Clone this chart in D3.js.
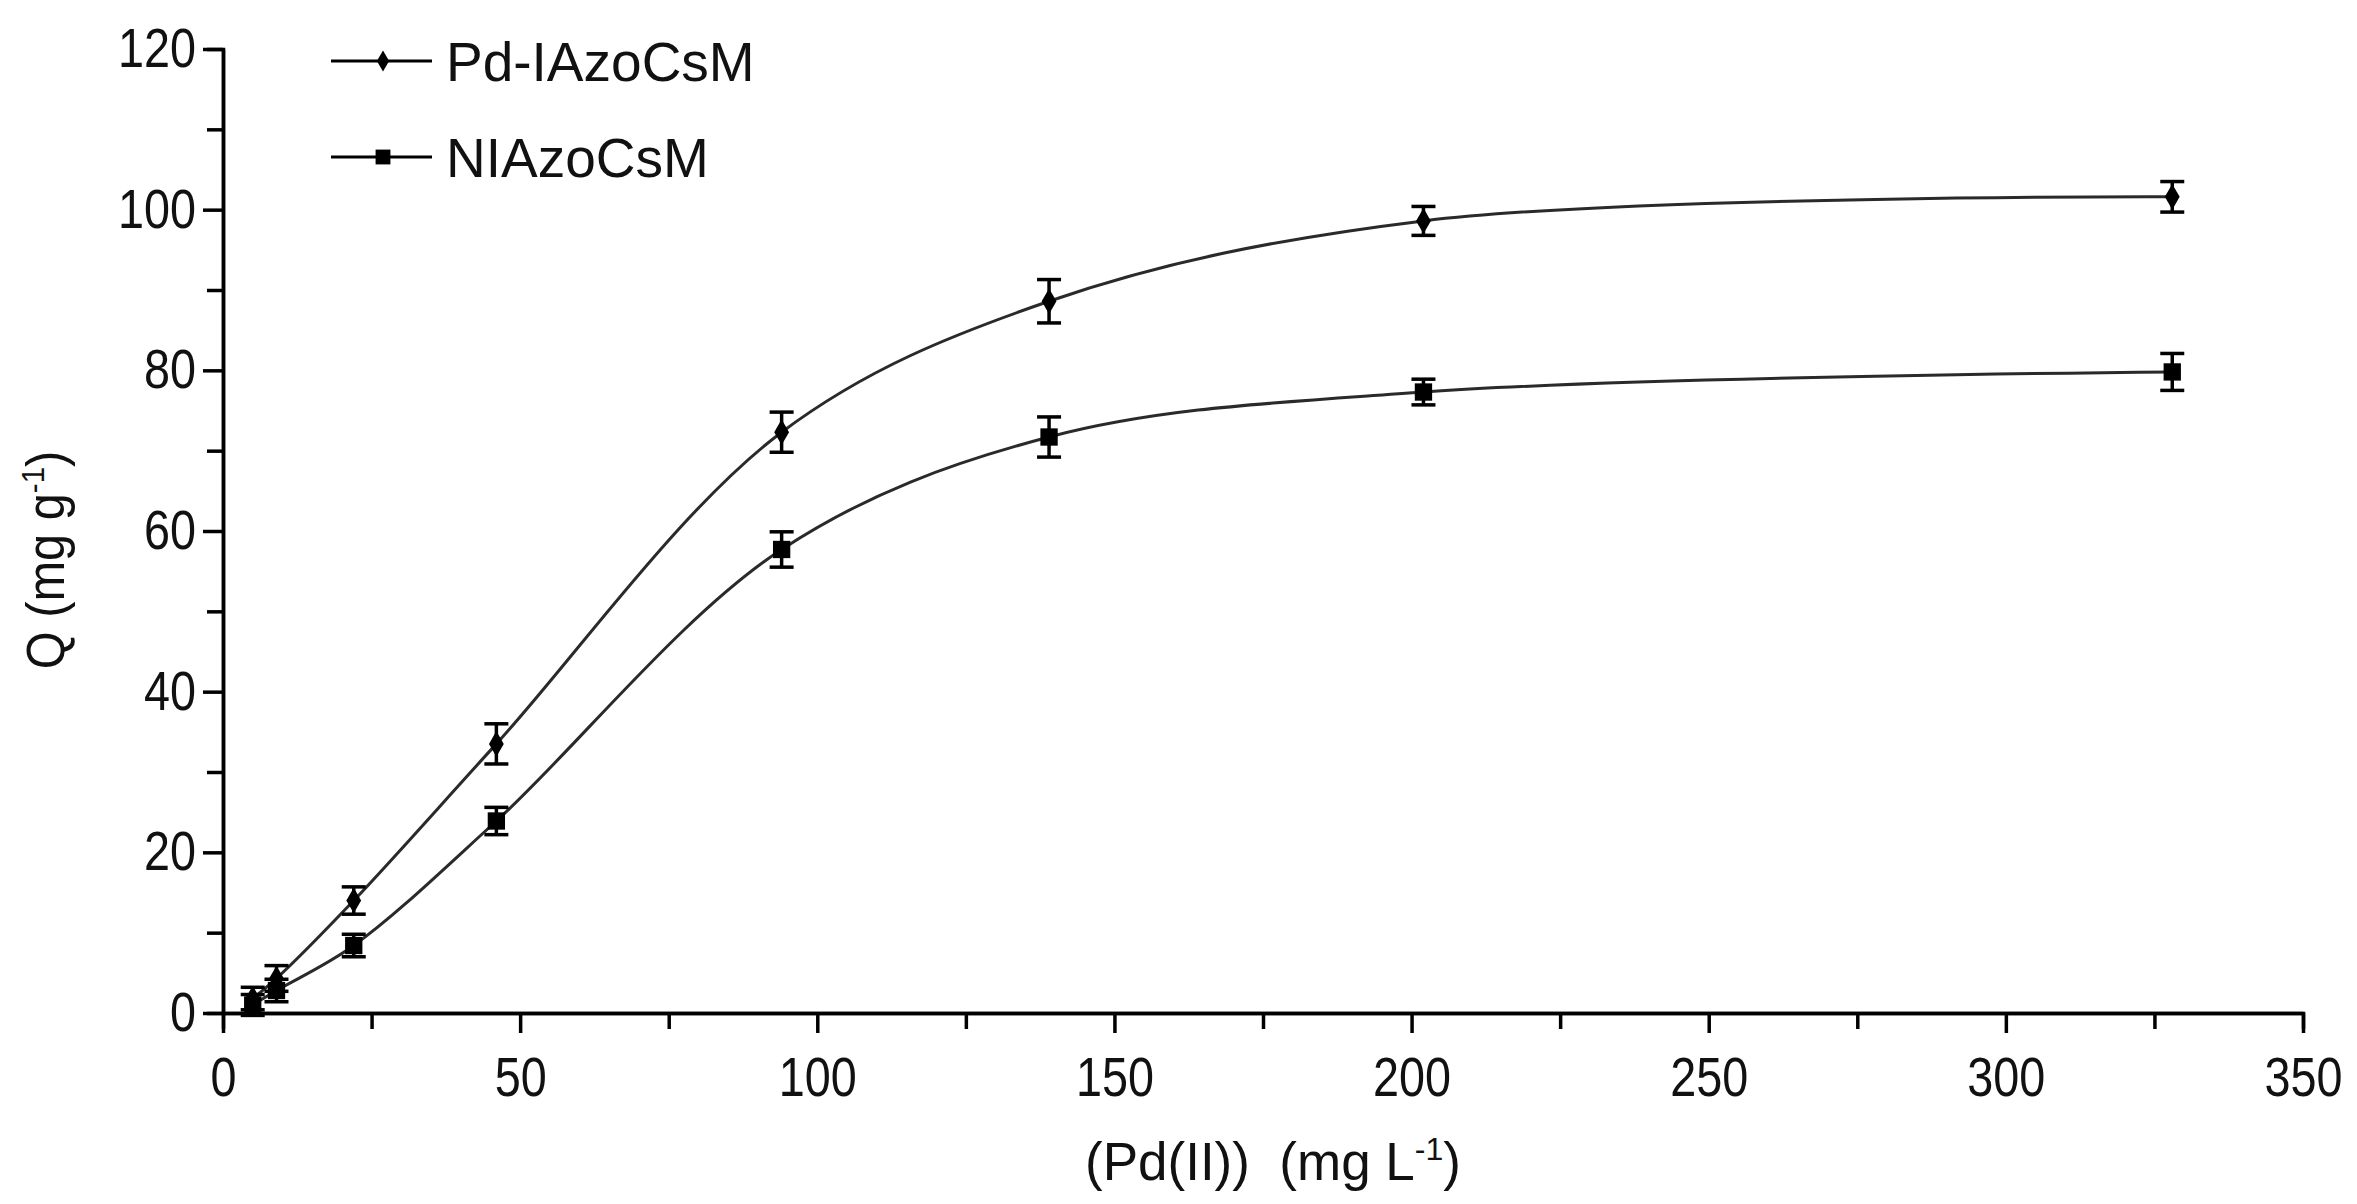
<html>
<head>
    <meta charset="utf-8">
    <style>
        body { margin: 0; background: #fff; }
        text { font-family: "Liberation Sans", Arial, sans-serif; fill: #111; white-space: pre; }
    </style>
</head>
<script src="https://d3js.org/d3.v7.min.js"></script>
<body>
    <div id="chart"></div>
</body>
<script>
    var width = 2357
    var height = 1204

    // data
    var seriesNames = ['Pd-IAzoCsM', 'NIAzoCsM']
    var conc = [5, 9, 22, 46, 94, 139, 202, 328]
    var pdQ = [1.8, 4.3, 14.0, 33.5, 72.3, 88.6, 98.6, 101.6]
    var pdErr = [1.4, 1.6, 1.7, 2.5, 2.5, 2.7, 1.8, 1.9]
    var niQ = [1.0, 2.8, 8.4, 23.9, 57.7, 71.7, 77.3, 79.8]
    var niErr = [1.3, 1.4, 1.4, 1.7, 2.2, 2.5, 1.6, 2.3]
    var xTicks = [0, 50, 100, 150, 200, 250, 300, 350]
    var yTicks = [0, 20, 40, 60, 80, 100, 120]

    var plotL = 223, plotR = 2303, plotT = 49, plotB = 1013
    var squeeze = 0.85

    const svg = d3.select('#chart')
      .append('svg')
      .attr('width', width)
      .attr('height', height)
      .style('background-color', 'white')

    var x = d3.scaleLinear().domain([0, 350]).range([plotL, plotR])
    var y = d3.scaleLinear().domain([0, 120]).range([plotB, plotT])

    // minor ticks first, then major ones with labels
    var xMinor = d3.axisBottom(x).tickValues(d3.range(25, 350, 50)).tickSize(16).tickFormat('')
    var yMinor = d3.axisLeft(y).tickValues(d3.range(10, 120, 20)).tickSize(16).tickFormat('')
    svg.append('g').attr('transform', 'translate(0,' + plotB + ')').call(xMinor)
    svg.append('g').attr('transform', 'translate(' + plotL + ',0)').call(yMinor)

    var xAxis = svg.append('g')
      .attr('transform', 'translate(0,' + plotB + ')')
      .call(d3.axisBottom(x).tickValues(xTicks).tickSize(20).tickSizeOuter(0))
    var yAxis = svg.append('g')
      .attr('transform', 'translate(' + plotL + ',0)')
      .call(d3.axisLeft(y).tickValues(yTicks).tickSize(20).tickSizeOuter(0))

    svg.selectAll('.domain, .tick line').attr('stroke', '#000').attr('stroke-width', 3.5)
    svg.selectAll('.tick text').style('font-size', '55px').attr('fill', '#111')

    // narrow digits like the original
    xAxis.selectAll('.tick text')
      .attr('transform', 'scale(' + squeeze + ',1)')
      .attr('x', 0).attr('y', 44).attr('dy', '0.71em')
    yAxis.selectAll('.tick text')
      .attr('transform', 'scale(' + squeeze + ',1)')
      .attr('x', -27 / squeeze)

    // smoothed lines
    var line = d3.line()
      .x(function (d) { return x(d[0]) })
      .y(function (d) { return y(d[1]) })
      .curve(d3.curveCatmullRom.alpha(0.5))

    var pdData = conc.map(function (c, i) { return [c, pdQ[i], pdErr[i]] })
    var niData = conc.map(function (c, i) { return [c, niQ[i], niErr[i]] })

    function drawSeries(data, symbolType, size) {
        svg.append('path')
          .datum(data)
          .attr('d', line)
          .attr('fill', 'none')
          .attr('stroke', '#2a2a2a')
          .attr('stroke-width', 3)

        var eb = svg.append('g').attr('stroke', '#000').attr('stroke-width', 3.5)
        data.forEach(function (d) {
            var cx = x(d[0]), y1 = y(d[1] + d[2]), y2 = y(d[1] - d[2])
            eb.append('line').attr('x1', cx).attr('x2', cx).attr('y1', y1).attr('y2', y2)
            eb.append('line').attr('x1', cx - 12).attr('x2', cx + 12).attr('y1', y1).attr('y2', y1)
            eb.append('line').attr('x1', cx - 12).attr('x2', cx + 12).attr('y1', y2).attr('y2', y2)
        })

        svg.append('g').selectAll('path')
          .data(data)
          .enter()
          .append('path')
          .attr('transform', function (d) { return 'translate(' + x(d[0]) + ',' + y(d[1]) + ')' })
          .attr('d', d3.symbol().type(symbolType).size(size))
          .attr('fill', '#000')
    }

    drawSeries(pdData, d3.symbolDiamond, 190)
    drawSeries(niData, d3.symbolSquare, 300)

    // legend
    var legendY = [61, 157]
    var legendSym = [[d3.symbolDiamond, 130], [d3.symbolSquare, 220]]
    seriesNames.forEach(function (name, i) {
        var g = svg.append('g').attr('transform', 'translate(0,' + legendY[i] + ')')
        g.append('line').attr('x1', 331).attr('x2', 432).attr('y1', 0).attr('y2', 0)
          .attr('stroke', '#000').attr('stroke-width', 3)
        g.append('path').attr('transform', 'translate(383,0)')
          .attr('d', d3.symbol().type(legendSym[i][0]).size(legendSym[i][1]))
          .attr('fill', '#000')
        g.append('text').attr('x', 446).attr('y', 0).attr('dy', '0.36em')
          .style('font-size', '55px').text(name)
    })

    // axis titles
    var xt = svg.append('text')
      .attr('x', (plotL + plotR) / 2 + 10)
      .attr('y', 1180)
      .attr('text-anchor', 'middle')
      .style('font-size', '53px')
    xt.append('tspan').text('(Pd(II))  (mg L')
    xt.append('tspan').attr('dy', -20).style('font-size', '32px').text('-1')
    xt.append('tspan').attr('dy', 20).text(')')

    var yt = svg.append('text')
      .attr('transform', 'translate(64,' + 560 + ') rotate(-90) scale(0.92,1)')
      .attr('text-anchor', 'middle')
      .style('font-size', '53px')
    yt.append('tspan').text('Q (mg g')
    yt.append('tspan').attr('dy', -20).style('font-size', '32px').text('-1')
    yt.append('tspan').attr('dy', 20).text(')')
</script>
</html>
